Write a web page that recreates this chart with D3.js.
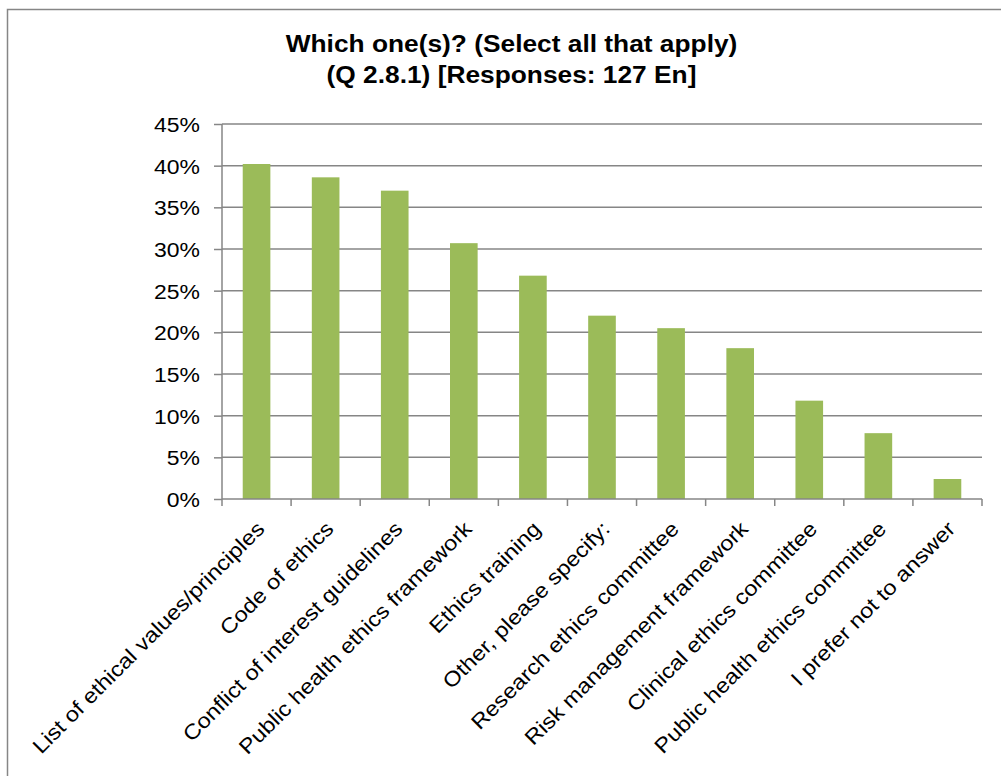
<!DOCTYPE html>
<html>
<head>
<meta charset="utf-8">
<script src="https://cdn.jsdelivr.net/npm/d3@7"></script>
<style>
  html, body { margin: 0; padding: 0; background: #fff; overflow: hidden; }
  svg { display: block; }
  text { font-family: "Liberation Sans", Arial, sans-serif; fill: #000; }
</style>
</head>
<body>
<svg id="chart" width="1001" height="776"></svg>
<script>
// Survey answers (share of 127 respondents)
const categories = [
  "List of ethical values/principles",
  "Code of ethics",
  "Conflict of interest guidelines",
  "Public health ethics framework",
  "Ethics training",
  "Other, please specify:",
  "Research ethics committee",
  "Risk management framework",
  "Clinical ethics committee",
  "Public health ethics committee",
  "I prefer not to answer"
];
const values = [0.402, 0.386, 0.370, 0.307, 0.268, 0.220, 0.205, 0.181, 0.118, 0.079, 0.024];
const yTicks = [0, 0.05, 0.10, 0.15, 0.20, 0.25, 0.30, 0.35, 0.40, 0.45];
const titleLines = ["Which one(s)? (Select all that apply)", "(Q 2.8.1) [Responses: 127 En]"];

const svg = d3.select("#chart");
const plot = { left: 222, right: 982, top: 124, bottom: 499 };
const stretch = 1.12; // glyphs are slightly wider than standard Arial proportions

// Outer chart frame (runs off the right and bottom edges)
svg.append("rect")
  .attr("x", 7.5).attr("y", 9.5)
  .attr("width", 1010).attr("height", 800)
  .attr("fill", "#fff").attr("stroke", "#868686").attr("stroke-width", 1.5);

// Title
svg.append("g").selectAll("text").data(titleLines).join("text")
  .attr("transform", (d, i) => `translate(511.5,${52 + i * 31}) scale(${stretch},1)`)
  .attr("text-anchor", "middle")
  .style("font-weight", "bold").style("font-size", "23.5px")
  .text(d => d);

const x = d3.scaleBand().domain(categories).range([plot.left, plot.right]).paddingInner(0).paddingOuter(0);
const y = d3.scaleLinear().domain([0, 0.45]).range([plot.bottom, plot.top]);

// Horizontal gridlines
svg.append("g").selectAll("line").data(yTicks.filter(t => t > 0)).join("line")
  .attr("x1", plot.left).attr("x2", plot.right)
  .attr("y1", d => y(d)).attr("y2", d => y(d))
  .attr("stroke", "#868686").attr("stroke-width", 1.5);

// Bars (40% of each band, centred)
const bw = x.bandwidth() * 0.4;
svg.append("g").selectAll("rect").data(values).join("rect")
  .attr("x", (d, i) => x(categories[i]) + (x.bandwidth() - bw) / 2)
  .attr("y", d => y(d))
  .attr("width", bw)
  .attr("height", d => y(0) - y(d))
  .attr("fill", "#9bbb59");

// Y axis
const yAxis = d3.axisLeft(y).tickValues(yTicks).tickFormat(d3.format(".0%")).tickSize(8).tickPadding(14);
const gy = svg.append("g").attr("transform", `translate(${plot.left},0)`).call(yAxis);
gy.select(".domain").attr("stroke", "#868686").attr("stroke-width", 1.5).attr("d", `M0,${plot.top}V${plot.bottom}`);
gy.selectAll(".tick line").attr("stroke", "#868686").attr("stroke-width", 1.5);
gy.selectAll(".tick text")
  .attr("x", null)
  .attr("transform", `translate(-22,1) scale(${stretch},1)`)
  .style("font-size", "20.5px")
  .style("font-family", "Liberation Sans, Arial, sans-serif")
  .attr("fill", "#000");

// X axis: ticks at band boundaries
const boundaries = categories.map(c => x(c)).concat([plot.right]);
svg.append("line")
  .attr("x1", plot.left).attr("x2", plot.right)
  .attr("y1", plot.bottom).attr("y2", plot.bottom)
  .attr("stroke", "#868686").attr("stroke-width", 1.5);
svg.append("g").selectAll("line").data(boundaries).join("line")
  .attr("x1", d => d).attr("x2", d => d)
  .attr("y1", plot.bottom).attr("y2", plot.bottom + 7)
  .attr("stroke", "#868686").attr("stroke-width", 1.5);

// Rotated category labels
svg.append("g").selectAll("text").data(categories).join("text")
  .attr("transform", d => `translate(${x(d) + x.bandwidth() / 2 + 4},${plot.bottom + 26}) rotate(-45) scale(${stretch},1)`)
  .attr("text-anchor", "end")
  .attr("dy", "0.35em")
  .style("font-size", "21px")
  .text(d => d);
</script>
</body>
</html>
